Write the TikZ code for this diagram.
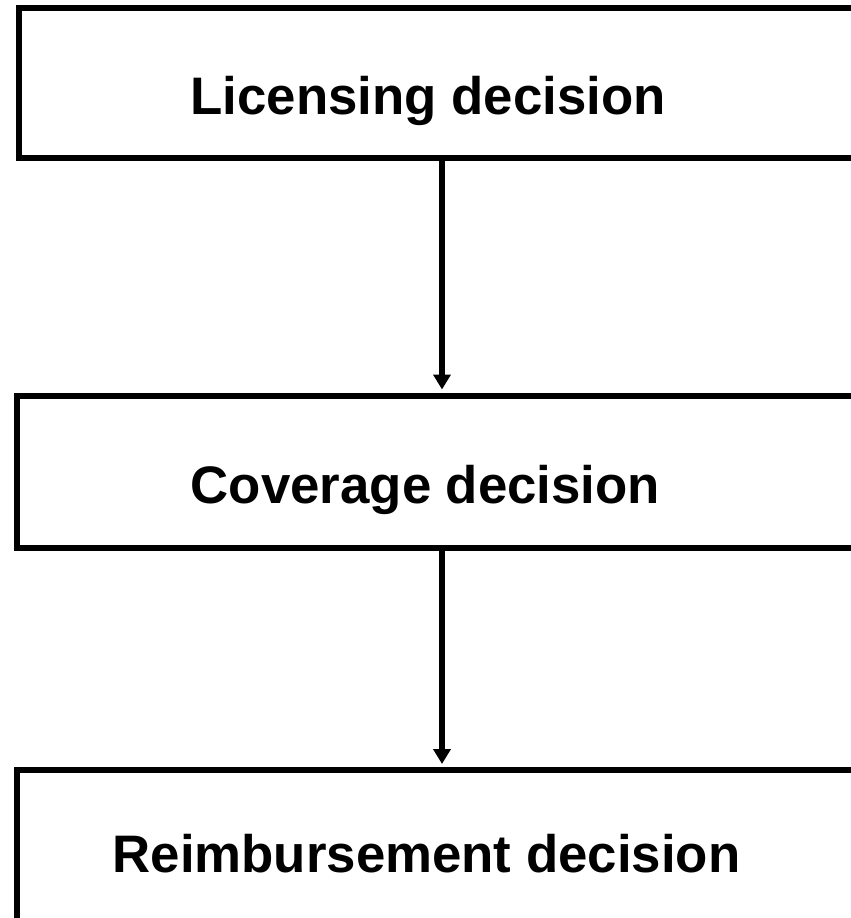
\documentclass[tikz,border=0pt]{standalone}
\usepackage{fontspec}
\setmainfont{Liberation Sans}
\usetikzlibrary{arrows.meta,positioning}

\begin{document}
\begin{tikzpicture}[x=1pt,y=-1pt,
    stage/.style={draw,line width=6pt,minimum width=900pt,inner sep=0pt},
    caption/.style={font=\fontsize{52.8}{60}\selectfont\bfseries,anchor=base},
    flow/.style={-{Triangle[width=17pt,length=15pt]},line width=5.5pt,shorten >=3pt}]
    \useasboundingbox (0,0) rectangle (851,918);
    \node[stage,minimum height=150pt] (licensing) at (469,83) {};
    \node[stage,minimum height=152pt] (coverage) at (467,471.5) {};
    \node[stage,minimum height=200pt] (reimbursement) at (466.5,870) {};
    \node[caption] (licensing text) at (428,114) {Licensing decision};
    \node[caption] (coverage text) at (425.5,503) {Coverage decision};
    \node[caption] (reimbursement text) at (426.5,872) {Reimbursement decision};
    \coordinate (axis) at (442,0);
    \draw[flow] (licensing.south -| axis) -- (coverage.north -| axis);
    \draw[flow] (coverage.south -| axis) -- (reimbursement.north -| axis);
\end{tikzpicture}
\end{document}
